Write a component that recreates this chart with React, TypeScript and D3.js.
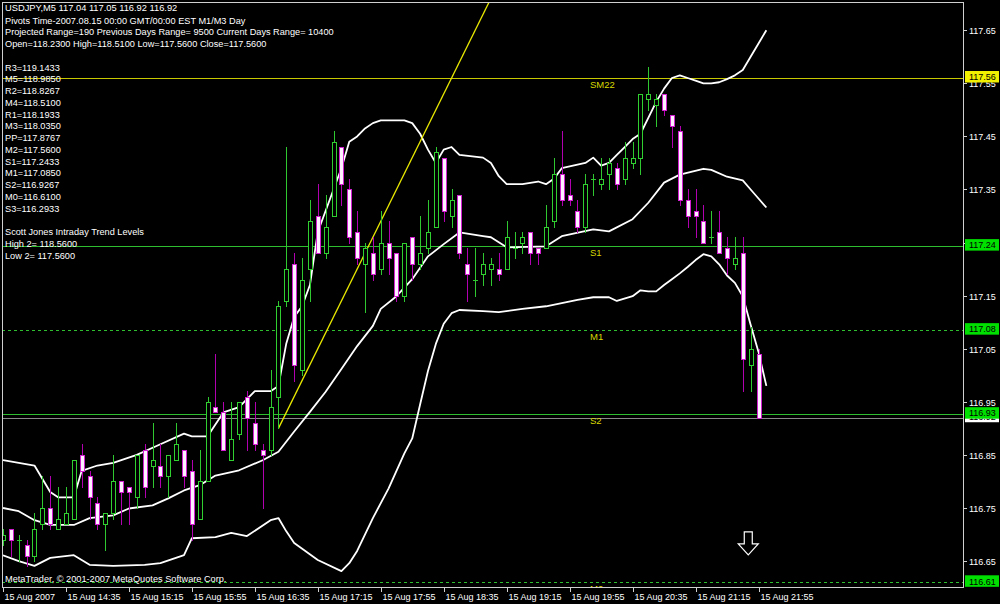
import React, { useEffect, useRef } from "react";
import * as d3 from "d3";

const W = 1000;
const H = 604;

// ---- Candle data (USDJPY M5, 15 Aug 2007 13:55 .. 21:55) ----
const opens = [
  116.69, 116.71, 116.69, 116.68, 116.66, 116.72, 116.75, 116.71, 116.72, 116.73,
  116.85, 116.81, 116.76, 116.72, 116.74, 116.80, 116.79, 116.77, 116.86, 116.83,
  116.83, 116.81, 116.84, 116.86, 116.82, 116.73, 116.80, 116.94, 116.93, 116.84,
  116.89, 116.96, 116.91, 116.86, 116.86, 116.96, 117.14, 117.21, 117.01, 117.20,
  117.30, 117.23, 117.30, 117.43, 117.35, 117.27, 117.21, 117.23, 117.20, 117.25,
  117.23, 117.15, 117.26, 117.21, 117.24, 117.28, 117.41, 117.30, 117.34, 117.21,
  117.18, 117.19, 117.20, 117.20, 117.20, 117.24, 117.25, 117.27, 117.24, 117.24,
  117.29, 117.38, 117.34, 117.31, 117.28, 117.37, 117.36, 117.38, 117.39, 117.37,
  117.40, 117.41, 117.52, 117.51, 117.53, 117.49, 117.46, 117.33, 117.31, 117.29,
  117.26, 117.27, 117.24, 117.21, 117.23, 117.02, 117.04,
];
const highs = [
  116.71, 116.71, 116.70, 116.69, 116.74, 116.81, 116.81, 116.79, 116.79, 116.84,
  116.87, 116.82, 116.77, 116.74, 116.85, 116.80, 116.79, 116.85, 116.87, 116.91,
  116.87, 116.85, 116.91, 116.86, 116.84, 116.86, 116.96, 117.04, 116.95, 116.95,
  116.95, 116.97, 116.95, 116.87, 117.01, 117.14, 117.43, 117.23, 117.22, 117.33,
  117.36, 117.34, 117.46, 117.43, 117.37, 117.31, 117.25, 117.26, 117.31, 117.29,
  117.23, 117.25, 117.26, 117.30, 117.33, 117.43, 117.41, 117.35, 117.34, 117.24,
  117.24, 117.23, 117.22, 117.23, 117.29, 117.27, 117.27, 117.27, 117.24, 117.32,
  117.41, 117.46, 117.37, 117.33, 117.38, 117.38, 117.41, 117.41, 117.40, 117.44,
  117.44, 117.53, 117.58, 117.53, 117.53, 117.49, 117.47, 117.35, 117.35, 117.32,
  117.31, 117.31, 117.26, 117.26, 117.26, 117.09, 117.05,
];
const lows = [
  116.68, 116.66, 116.65, 116.64, 116.65, 116.71, 116.71, 116.71, 116.72, 116.73,
  116.79, 116.73, 116.71, 116.67, 116.73, 116.72, 116.72, 116.75, 116.77, 116.79,
  116.79, 116.77, 116.84, 116.79, 116.69, 116.73, 116.80, 116.93, 116.86, 116.84,
  116.88, 116.86, 116.86, 116.75, 116.85, 116.90, 117.13, 116.99, 117.00, 117.14,
  117.23, 117.22, 117.30, 117.32, 117.25, 117.21, 117.12, 117.18, 117.19, 117.19,
  117.14, 117.14, 117.18, 117.20, 117.23, 117.28, 117.29, 117.28, 117.22, 117.14,
  117.15, 117.17, 117.17, 117.18, 117.20, 117.22, 117.23, 117.21, 117.21, 117.24,
  117.28, 117.32, 117.32, 117.27, 117.27, 117.34, 117.35, 117.35, 117.35, 117.36,
  117.39, 117.38, 117.50, 117.47, 117.49, 117.43, 117.32, 117.28, 117.26, 117.25,
  117.25, 117.23, 117.19, 117.20, 116.97, 116.97, 116.92,
];
const closes = [
  116.70, 116.69, 116.69, 116.66, 116.71, 116.75, 116.72, 116.73, 116.74, 116.84,
  116.82, 116.77, 116.72, 116.74, 116.80, 116.78, 116.78, 116.85, 116.79, 116.84,
  116.81, 116.85, 116.87, 116.81, 116.72, 116.80, 116.95, 116.93, 116.86, 116.88,
  116.95, 116.92, 116.87, 116.85, 116.94, 117.13, 117.20, 117.02, 117.18, 117.29,
  117.23, 117.28, 117.44, 117.36, 117.26, 117.22, 117.24, 117.19, 117.25, 117.22,
  117.15, 117.25, 117.21, 117.23, 117.27, 117.42, 117.31, 117.33, 117.23, 117.19,
  117.18, 117.21, 117.21, 117.19, 117.26, 117.24, 117.26, 117.23, 117.23, 117.28,
  117.38, 117.33, 117.33, 117.28, 117.36, 117.37, 117.37, 117.40, 117.36, 117.41,
  117.41, 117.53, 117.53, 117.52, 117.50, 117.47, 117.33, 117.30, 117.30, 117.25,
  117.26, 117.23, 117.22, 117.22, 117.03, 117.05, 116.92,
];

// ---- Bollinger bands: [bar index, price] ----
const upperBand: [number, number][] = [
  [0, 116.84], [4, 116.83], [6, 116.78], [7, 116.77], [9, 116.77], [10, 116.82],
  [12, 116.83], [14, 116.835], [17, 116.85], [20, 116.87], [23, 116.89], [24, 116.885],
  [26, 116.885], [28, 116.93], [30, 116.94], [32, 116.97], [34, 116.97], [35, 116.98],
  [36, 117.06], [37, 117.11], [38, 117.13], [39, 117.17], [40, 117.27], [41, 117.31],
  [42, 117.35], [43, 117.39], [44, 117.44], [45, 117.45], [46, 117.465], [47, 117.475],
  [48, 117.48], [51, 117.48], [52, 117.475], [53, 117.455], [54, 117.425], [55, 117.40],
  [56, 117.425], [57, 117.43], [58, 117.415], [61, 117.41], [62, 117.40], [63, 117.375],
  [64, 117.36], [66, 117.36], [68, 117.365], [69, 117.36], [70, 117.37], [71, 117.39],
  [74, 117.40], [75, 117.41], [76, 117.395], [77, 117.40], [78, 117.415], [79, 117.43],
  [80, 117.445], [81, 117.455], [82, 117.485], [83, 117.515], [84, 117.54], [85, 117.56],
  [86, 117.565], [87, 117.56], [88, 117.555], [89, 117.55], [90, 117.55], [91, 117.552],
  [92, 117.558], [93, 117.565], [94, 117.575], [95, 117.60], [96, 117.625], [97, 117.65],
];
const middleBand: [number, number][] = [
  [0, 116.75], [2, 116.744], [4, 116.727], [6, 116.718], [9, 116.718], [11, 116.731],
  [14, 116.736], [16, 116.749], [19, 116.755], [21, 116.768], [23, 116.783], [25, 116.793],
  [27, 116.811], [30, 116.821], [33, 116.84], [35, 116.856], [37, 116.894], [39, 116.931],
  [41, 116.969], [43, 117.012], [45, 117.055], [47, 117.093], [48, 117.125], [50, 117.149],
  [52, 117.181], [54, 117.224], [56, 117.247], [58, 117.269], [61, 117.262], [62, 117.26],
  [64, 117.241], [69, 117.243], [71, 117.262], [75, 117.275], [77, 117.271], [80, 117.294],
  [82, 117.325], [84, 117.363], [86, 117.378], [89, 117.389], [90, 117.387], [92, 117.374],
  [94, 117.367], [95, 117.35], [96, 117.333], [97, 117.316],
];
const lowerBand: [number, number][] = [
  [0, 116.661], [2, 116.65], [4, 116.641], [6, 116.656], [9, 116.661], [11, 116.643],
  [14, 116.641], [18, 116.643], [20, 116.646], [23, 116.661], [24, 116.693], [27, 116.695],
  [29, 116.703], [31, 116.697], [34, 116.727], [35, 116.731], [36, 116.706], [37, 116.684],
  [40, 116.652], [43, 116.631], [44, 116.646], [45, 116.669], [47, 116.731], [49, 116.787],
  [51, 116.853], [52, 116.881], [53, 116.945], [54, 117.008], [55, 117.059], [56, 117.097],
  [57, 117.117], [58, 117.123], [61, 117.121], [63, 117.119], [66, 117.125], [69, 117.13],
  [71, 117.136], [73, 117.142], [75, 117.147], [77, 117.147], [78, 117.14], [80, 117.149],
  [81, 117.16], [82, 117.158], [83, 117.158], [84, 117.17], [85, 117.181], [86, 117.192],
  [87, 117.204], [88, 117.217], [89, 117.228], [90, 117.224], [91, 117.209], [92, 117.188],
  [93, 117.174], [94, 117.149], [95, 117.095], [96, 117.044], [97, 116.98],
];

// ---- Trend line anchors [bar, price] ----
const trendAnchors: [number, number][] = [[35, 116.90], [48, 117.29]];

// ---- Axis ticks ----
const priceTicks = [117.65, 117.55, 117.45, 117.35, 117.25, 117.15, 117.05, 116.95, 116.85, 116.75, 116.65];
const timeTickBars = [0, 8, 16, 24, 32, 40, 48, 56, 64, 72, 80, 88, 96];
const timeTickLabels = [
  "15 Aug 2007", "15 Aug 14:35", "15 Aug 15:15", "15 Aug 15:55", "15 Aug 16:35",
  "15 Aug 17:15", "15 Aug 17:55", "15 Aug 18:35", "15 Aug 19:15", "15 Aug 19:55",
  "15 Aug 20:35", "15 Aug 21:15", "15 Aug 21:55",
];

// ---- Pivot / level lines ----
const levelNames = ["SM22", "S1", "M1", "S2", "M0"];
const levelValues = [117.56, 117.2433, 117.085, 116.9267, 116.61];
const levelBoxLabels = ["117.56", "117.24", "117.08", "116.93", "116.61"];
const bidPrice = 116.92;

// ---- Text ----
const headerText = "USDJPY,M5  117.04 117.05 116.92 116.92";
const commentLines = [
  "Pivots Time-2007.08.15 00:00 GMT/00:00 EST M1/M3 Day",
  "Projected Range=190 Previous Days Range= 9500 Current Days Range= 10400",
  "Open=118.2300 High=118.5100 Low=117.5600 Close=117.5600",
  "",
  "R3=119.1433",
  "M5=118.9850",
  "R2=118.8267",
  "M4=118.5100",
  "R1=118.1933",
  "M3=118.0350",
  "PP=117.8767",
  "M2=117.5600",
  "S1=117.2433",
  "M1=117.0850",
  "S2=116.9267",
  "M0=116.6100",
  "S3=116.2933",
  "",
  "Scott Jones Intraday Trend Levels",
  "High 2= 118.5600",
  "Low 2= 117.5600",
];
const copyrightText = "MetaTrader, \u00A9 2001-2007 MetaQuotes Software Corp.";
const arrowAnchor: [number, number] = [94.7, 116.705];

const FONT = "'Liberation Sans', Arial, sans-serif";

export default function App() {
  const ref = useRef<SVGSVGElement | null>(null);

  useEffect(() => {
    const svg = d3.select(ref.current);
    svg.selectAll("*").remove();

    const left = 2, right = 963, top = 2, bottom = 587;
    const x = d3.scaleLinear().domain([0, 96]).range([3, 758.5]);
    const y = d3.scaleLinear().domain([116.61, 117.56]).range([582.3, 78]);

    svg.append("rect").attr("width", W).attr("height", H).attr("fill", "#000");

    const defs = svg.append("defs");
    defs.append("clipPath").attr("id", "plotclip")
      .append("rect").attr("x", left + 1).attr("y", top + 1)
      .attr("width", right - left - 1).attr("height", bottom - top - 1);

    const plot = svg.append("g").attr("clip-path", "url(#plotclip)");

    // level lines
    const levelStyle = [
      { stroke: "#c8c800", dash: null },
      { stroke: "#2ebd2e", dash: null },
      { stroke: "#2ebd2e", dash: "3,3" },
      { stroke: "#2ebd2e", dash: null },
      { stroke: "#2ebd2e", dash: "3,3" },
    ];
    levelValues.forEach((v, i) => {
      const yy = Math.round(y(v)) + 0.5;
      const ln = plot.append("line").attr("x1", left).attr("x2", right)
        .attr("y1", yy).attr("y2", yy)
        .attr("stroke", levelStyle[i].stroke).attr("stroke-width", 1);
      if (levelStyle[i].dash) ln.attr("stroke-dasharray", levelStyle[i].dash);
    });
    // bid line
    {
      const yy = Math.round(y(bidPrice)) + 0.5;
      plot.append("line").attr("x1", left).attr("x2", right).attr("y1", yy).attr("y2", yy)
        .attr("stroke", "#8a8a8a").attr("stroke-width", 1);
    }
    // level labels
    levelNames.forEach((n, i) => {
      plot.append("text").attr("x", 590).attr("y", y(levelValues[i]) + 9.5)
        .attr("fill", "#d8d800").attr("font-family", FONT).attr("font-size", 9.5)
        .text(n);
    });

    // bands
    const line = d3.line<[number, number]>().x((d) => x(d[0])).y((d) => y(d[1]));
    [upperBand, middleBand, lowerBand].forEach((b) => {
      plot.append("path").attr("d", line(b) as string).attr("fill", "none")
        .attr("stroke", "#ffffff").attr("stroke-width", 1.8).attr("stroke-linejoin", "round");
    });

    // trend line (ray)
    {
      const [a, b] = trendAnchors;
      const slope = (b[1] - a[1]) / (b[0] - a[0]);
      const endBar = 75;
      const endPrice = a[1] + slope * (endBar - a[0]);
      plot.append("line").attr("x1", x(a[0])).attr("y1", y(a[1]))
        .attr("x2", x(endBar)).attr("y2", y(endPrice))
        .attr("stroke", "#e8e800").attr("stroke-width", 1.3);
    }

    // candles
    const g = plot.append("g");
    opens.forEach((o, i) => {
      const c = closes[i];
      const hi = highs[i];
      const lo = lows[i];
      const bull = c >= o;
      const cx = Math.round(x(i)) + 0.5;
      const wick = bull ? "#30c830" : "#b000b0";
      g.append("line").attr("x1", cx).attr("x2", cx)
        .attr("y1", Math.round(y(hi))).attr("y2", Math.round(y(lo)) + 1)
        .attr("stroke", wick).attr("stroke-width", 1);
      const yTop = Math.round(y(Math.max(o, c)));
      const yBot = Math.round(y(Math.min(o, c)));
      if (yBot - yTop < 1) {
        g.append("line").attr("x1", cx - 2.5).attr("x2", cx + 2.5)
          .attr("y1", yTop + 0.5).attr("y2", yTop + 0.5)
          .attr("stroke", wick).attr("stroke-width", 1);
      } else if (bull) {
        g.append("rect").attr("x", cx - 2).attr("y", yTop + 0.5)
          .attr("width", 4).attr("height", yBot - yTop)
          .attr("fill", "#000").attr("stroke", "#30d030").attr("stroke-width", 1);
      } else {
        g.append("rect").attr("x", cx - 2).attr("y", yTop + 0.5)
          .attr("width", 4).attr("height", yBot - yTop)
          .attr("fill", "#fff0ff").attr("stroke", "#d020d0").attr("stroke-width", 1);
      }
    });

    // arrow (down)
    {
      const ax = x(arrowAnchor[0]);
      const ay = y(arrowAnchor[1]);
      const pts: [number, number][] = [
        [ax - 4, ay], [ax + 4, ay], [ax + 4, ay + 12], [ax + 10, ay + 12],
        [ax, ay + 23], [ax - 10, ay + 12], [ax - 4, ay + 12],
      ];
      plot.append("polygon").attr("points", pts.map((p) => p.join(",")).join(" "))
        .attr("fill", "#000").attr("stroke", "#fff").attr("stroke-width", 1.2);
    }

    // texts
    const txt = svg.append("g").attr("font-family", FONT).attr("fill", "#fff");
    txt.append("text").attr("x", 5).attr("y", 10.5).attr("font-size", 9.3).text(headerText);
    commentLines.forEach((s, i) => {
      if (!s) return;
      txt.append("text").attr("x", 5).attr("y", 23.5 + i * 11.75).attr("font-size", 9.2).text(s);
    });
    txt.append("text").attr("x", 5).attr("y", 582).attr("font-size", 9.2).text(copyrightText);

    // frame
    svg.append("rect").attr("x", left + 0.5).attr("y", top + 0.5)
      .attr("width", right - left).attr("height", bottom - top)
      .attr("fill", "none").attr("stroke", "#d0d0d0").attr("stroke-width", 1);

    // price axis ticks
    const ax = svg.append("g").attr("font-family", FONT).attr("font-size", 9);
    priceTicks.forEach((p) => {
      const yy = Math.round(y(p)) + 0.5;
      ax.append("line").attr("x1", right + 0.5).attr("x2", right + 4).attr("y1", yy).attr("y2", yy)
        .attr("stroke", "#d0d0d0");
      ax.append("text").attr("x", 969).attr("y", yy + 3.2).attr("fill", "#fff").text(p.toFixed(2));
    });

    // time axis ticks
    timeTickBars.forEach((b, i) => {
      const xx = Math.round(x(b)) + 0.5;
      ax.append("line").attr("x1", xx).attr("x2", xx).attr("y1", bottom).attr("y2", bottom + 5)
        .attr("stroke", "#d0d0d0");
      ax.append("text").attr("x", xx + 1).attr("y", 600).attr("fill", "#fff").text(timeTickLabels[i]);
    });

    // price boxes
    const boxFill = ["#f0f000", "#00e000", "#00e000", "#00e000", "#00e000"];
    const drawBox = (v: number, label: string, fill: string) => {
      const yy = y(v);
      ax.append("rect").attr("x", 965).attr("y", yy - 7).attr("width", 34).attr("height", 11.5)
        .attr("fill", fill);
      ax.append("text").attr("x", 969).attr("y", yy + 2.2).attr("fill", "#000").text(label);
    };
    drawBox(bidPrice, bidPrice.toFixed(2), "#ffffff");
    levelValues.forEach((v, i) => drawBox(v, levelBoxLabels[i], boxFill[i]));
  }, []);

  return (
    <svg
      ref={ref}
      width={W}
      height={H}
      style={{ position: "fixed", left: 0, top: 0, display: "block" }}
    />
  );
}
